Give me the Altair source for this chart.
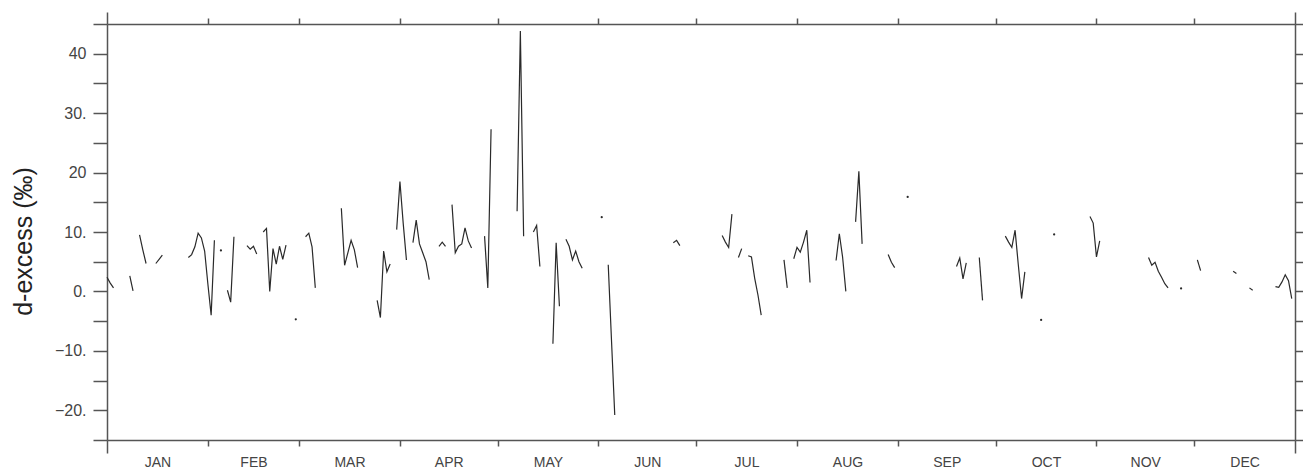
import altair as alt
import pandas as pd

# ---- data (day of year, d-excess in permil) ----
seg_start = [0, 7, 10, 15, 25, 37, 43, 48, 61, 72, 83, 89, 94, 102, 106, 116, 126,
             131, 137, 141, 154, 174, 189, 194, 197, 208, 211, 224, 230, 240, 261,
             268, 276, 302, 320, 335, 346, 351, 359]
seg_values = [
    [2.4, 1.4, 0.6],
    [2.6, 0.1],
    [9.5, 7.0, 4.7],
    [4.7, 5.4, 6.1],
    [5.7, 6.2, 7.5, 9.8, 9.0, 6.8, 1.2, -4.0, 8.6],
    [0.2, -1.8, 9.2],
    [7.7, 7.1, 7.6, 6.3],
    [10.0, 10.6, 0.0, 7.2, 4.6, 7.6, 5.4, 7.8],
    [9.2, 9.8, 7.5, 0.6],
    [14.0, 4.4, 6.5, 8.6, 7.0, 4.0],
    [-1.5, -4.4, 6.8, 3.3, 4.6],
    [10.4, 18.5, 11.5, 5.3],
    [8.2, 12.0, 8.0, 6.5, 5.0, 2.0],
    [7.6, 8.3, 7.6],
    [14.6, 6.5, 7.6, 8.0, 10.7, 8.5, 7.3],
    [9.3, 0.6, 27.3],
    [13.5, 43.8, 9.3],
    [10.0, 11.1, 4.2],
    [-8.8, 8.2, -2.5],
    [8.8, 7.6, 5.3, 6.8, 5.0, 3.9],
    [4.5, -8.2, -20.8],
    [8.2, 8.6, 7.7],
    [9.4, 8.3, 7.4, 13.0],
    [5.7, 7.2],
    [6.0, 5.8, 2.2, -0.6, -4.0],
    [5.3, 0.6],
    [5.5, 7.4, 6.6, 8.3, 10.3, 1.5],
    [5.2, 9.7, 5.8, 0.0],
    [11.7, 20.2, 8.0],
    [6.2, 4.9, 4.0],
    [4.2, 5.6, 2.1, 4.8],
    [5.7, -1.5],
    [9.3, 8.3, 7.4, 10.3, 4.4, -1.2, 3.3],
    [12.6, 11.5, 5.8, 8.5],
    [5.7, 4.4, 4.9, 3.4, 2.4, 1.3, 0.6],
    [5.3, 3.5],
    [3.4, 3.0],
    [0.6, 0.2],
    [0.8, 0.7, 1.6, 2.8, 1.8, -1.2],
]
dot_day = [35, 58, 152, 246, 287, 291, 330]
dot_value = [6.9, -4.7, 12.5, 15.9, -4.8, 9.6, 0.5]

month_names = ["JAN", "FEB", "MAR", "APR", "MAY", "JUN",
               "JUL", "AUG", "SEP", "OCT", "NOV", "DEC"]
month_start = [0, 31, 59, 90, 120, 151, 181, 212, 243, 273, 304, 334, 365]
y_ticks = list(range(-25, 46, 5))
y_labels = {40: "40\u2008", 30: "30.", 20: "20\u2008", 10: "10.", 0: "0.",
            -10: "\u221210.", -20: "\u221220."}

# ---- tables ----
rows = []
for i, (s, vals) in enumerate(zip(seg_start, seg_values)):
    for j, v in enumerate(vals):
        rows.append({"day": s + j, "dx": v, "seg": i})
lines = pd.DataFrame(rows)
dots = pd.DataFrame({"day": dot_day, "dx": dot_value})

mids = [(a + b) / 2 for a, b in zip(month_start[:-1], month_start[1:])]
x_values = month_start + mids
x_label_expr = " : ".join(
    f"datum.value == {m} ? '{n}'" for m, n in zip(mids, month_names)) + " : ''"
y_label_expr = " : ".join(
    f"datum.value == {k} ? '{v}'" for k, v in y_labels.items()) + " : ''"
mid_test = f"indexof({month_start}, datum.value) < 0"
end_test = "datum.value == 0 || datum.value == 365"

FONT = "Liberation Sans"
FRAME = "#555555"
INK = "#2a2a2a"

x_scale = alt.Scale(domain=[0, 365], nice=False, zero=False)
y_scale = alt.Scale(domain=[-25, 45], nice=False, zero=False)

x_bottom = alt.Axis(
    orient="bottom", values=x_values, labelExpr=x_label_expr, title=None,
    tickSize={"condition": {"test": end_test, "value": 13}, "value": 6},
    tickOpacity={"condition": {"test": mid_test, "value": 0}, "value": 1},
    labelFont=FONT, labelFontSize=14, labelColor="#444444", labelPadding=9,
    labelOverlap=False, labelFlush=False, labelBound=False, grid=False,
)
y_left = alt.Axis(
    orient="left", values=y_ticks, labelExpr=y_label_expr,
    title="d-excess (\u2030)", titleFont=FONT, titleFontSize=25,
    titleFontWeight="normal", titleColor="#222222", titleAngle=270,
    titleAlign="center", titleBaseline="bottom", titleX=-71, titleY=217,
    tickSize=14, labelFont=FONT, labelFontSize=16, labelColor="#444444",
    labelPadding=7, labelOverlap=False, labelFlush=False, labelBound=False,
    grid=False,
)
x_top = alt.Axis(
    orient="top", values=month_start, labels=False, title=None,
    tickSize={"condition": {"test": end_test, "value": 12}, "value": 6},
    grid=False,
)
y_right = alt.Axis(orient="right", values=y_ticks, labels=False, title=None,
                   tickSize=13, grid=False)

line_layer = alt.Chart(lines).mark_line(color=INK, strokeWidth=1.2).encode(
    x=alt.X("day:Q", scale=x_scale, axis=x_bottom),
    y=alt.Y("dx:Q", scale=y_scale, axis=y_left),
    detail="seg:N",
)
dot_layer = alt.Chart(dots).mark_circle(size=5, color=INK, opacity=1).encode(
    x=alt.X("day:Q", scale=x_scale, axis=x_top),
    y=alt.Y("dx:Q", scale=y_scale, axis=y_right),
)

chart = (
    alt.layer(line_layer, dot_layer)
    .resolve_axis(x="independent", y="independent")
    .properties(
        width=1188, height=416,
        autosize=alt.AutoSizeParams(type="none"),
        padding={"left": 99, "top": 16, "right": 8, "bottom": 31},
        background="white",
    )
    .configure_view(stroke=None)
    .configure_axis(domainColor=FRAME, domainWidth=1.5, tickColor=FRAME,
                    tickWidth=1.5)
)

chart.save("out.html", embed_options={"renderer": "svg", "actions": False})
